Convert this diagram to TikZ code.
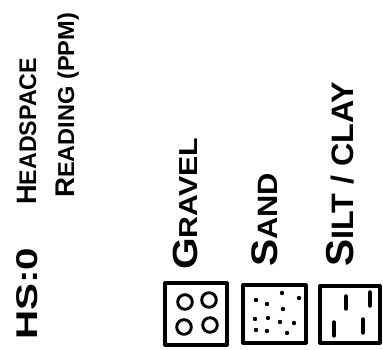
\documentclass[tikz,border=0pt]{standalone}
\usepackage{fontspec}
\usepackage{graphicx}
\setmainfont{Liberation Sans}
\newcommand{\fsz}[1]{\fontsize{#1}{#1}\selectfont}
\begin{document}
\begin{tikzpicture}[x=1pt,y=1pt,
  lbl/.style={rotate=90,anchor=base west,inner sep=0pt,font=\bfseries},
  soilbox/.style={draw,line width=3.2pt,line join=round},
  pebble/.style={draw,line width=2.9pt},
  grain/.style={fill,circle,inner sep=0pt,minimum size=4.4pt},
  clay/.style={line width=3.4pt,line cap=round}]
\useasboundingbox (0,0) rectangle (383,349);
% labels
\node[lbl] (hs) at (37,9) {\resizebox{92pt}{\height}{\fsz{30}HS:0}};
\node[lbl] (head) at (36,144) {\resizebox{147pt}{\height}{\fsz{28}H\fsz{24}EADSPACE}};
\node[lbl] (read) at (74,151) {\resizebox{185pt}{\height}{\fsz{27}R\fsz{23}EADING (PPM)}};
\node[lbl] (grl) at (197,79) {\resizebox{132pt}{\height}{\fsz{35}G\fsz{26}RAVEL}};
\node[lbl] (sdl) at (277,82) {\resizebox{94pt}{\height}{\fsz{37}S\fsz{28}AND}};
\node[lbl] (stl) at (353,82) {\resizebox{185pt}{\height}{\fsz{39}S\fsz{31}ILT / CLAY}};
% boxes
\draw[soilbox] (165,4) rectangle (227,66);
\draw[soilbox] (243,6) rectangle (306,64);
\draw[soilbox] (320,6) rectangle (380,63);
% gravel
\foreach \p in {(185,47),(209,49),(184,22),(210,24)}
  \draw[pebble] \p circle (7.3);
% sand
\foreach \p in {(282,56),(299,51),(256,49),(267,45),(283,40),(255,30),(268,31),(280,27),(294,26),(256,19),(267,18),(287,16)}
  \node[grain] at \p {};
% silt / clay
\draw[clay] (346,53) -- (346,40);
\draw[clay] (370,57) -- (370,43);
\draw[clay] (334,27) -- (334,13);
\draw[clay] (363,30) -- (363,16);
\end{tikzpicture}
\end{document}
